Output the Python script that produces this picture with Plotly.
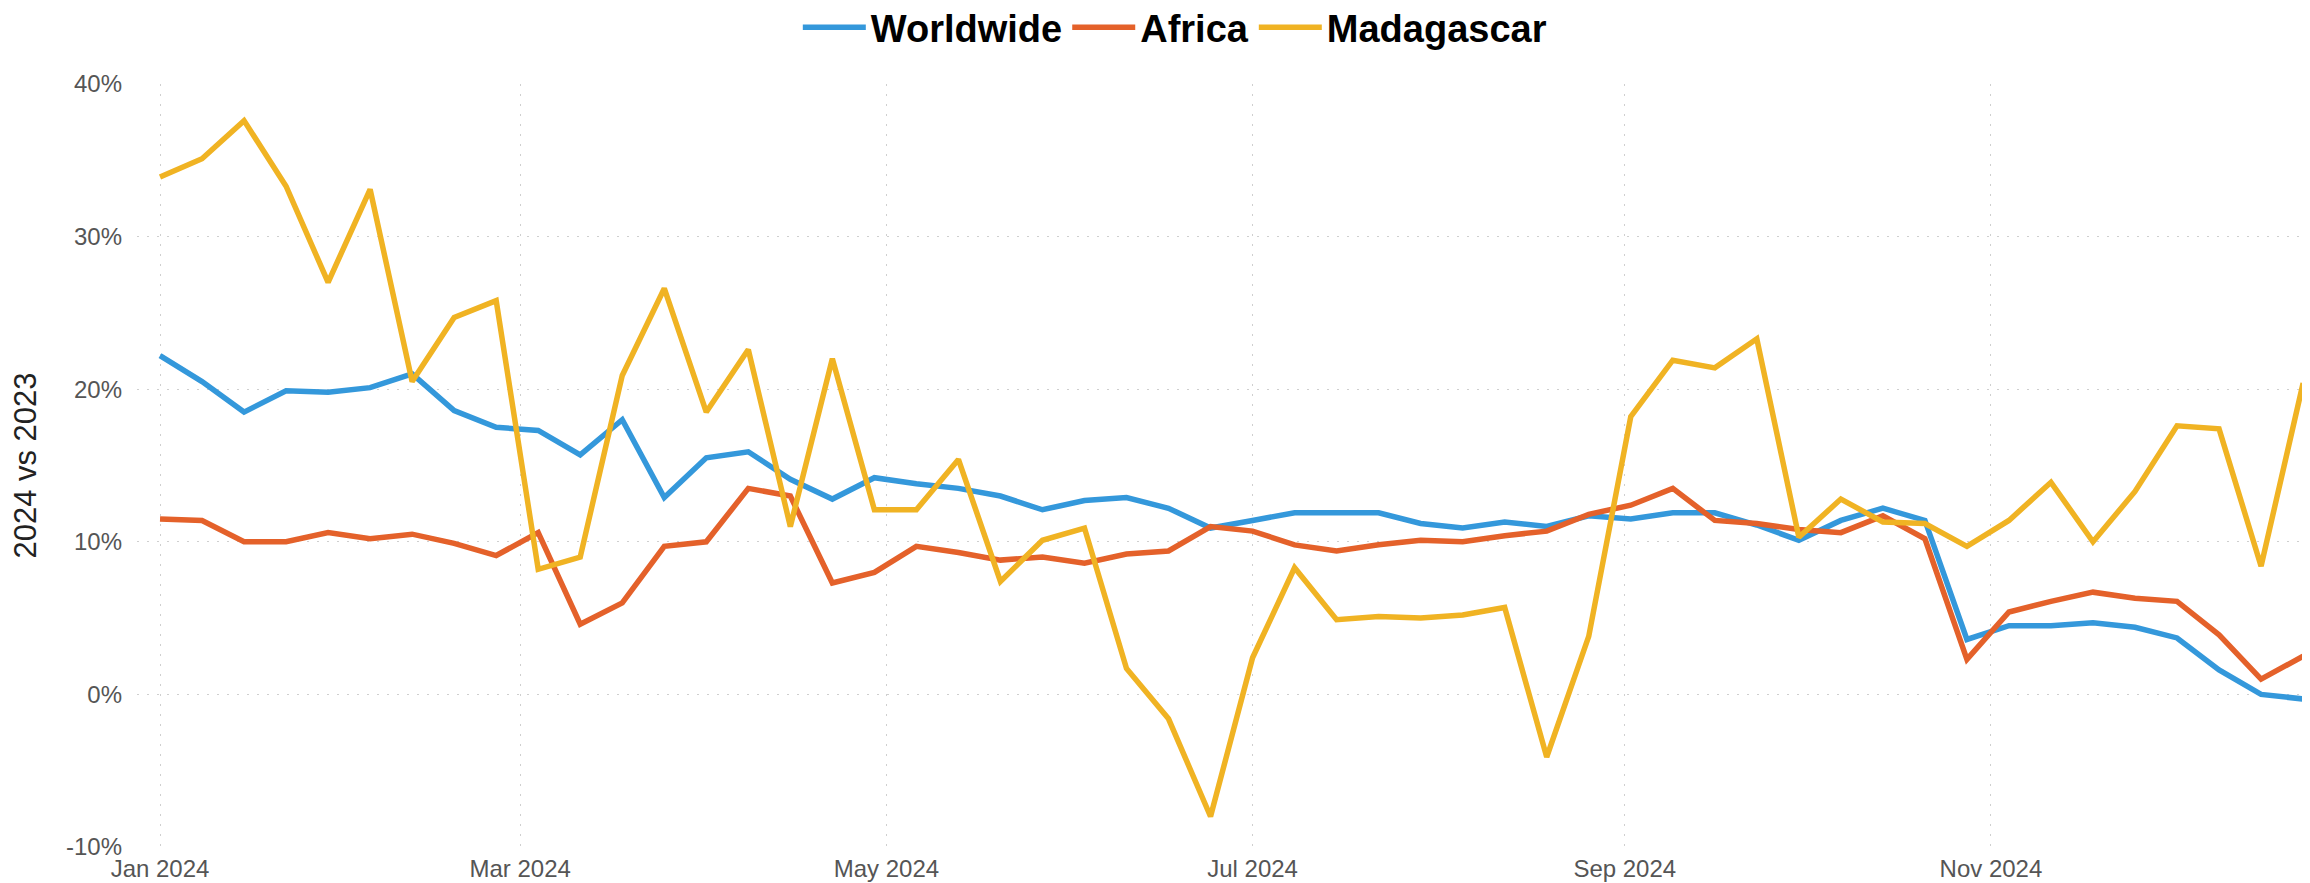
import plotly.graph_objects as go
import pandas as pd

dates = pd.date_range("2024-01-01", periods=52, freq="7D")

worldwide = [22.2, 20.5, 18.5, 19.9, 19.8, 20.1, 21.0, 18.6, 17.5, 17.3, 15.7, 18.0, 12.9, 15.5, 15.9, 14.1,
             12.8, 14.2, 13.8, 13.5, 13.0, 12.1, 12.7, 12.9, 12.2, 10.9, 11.4, 11.9, 11.9, 11.9, 11.2, 10.9, 11.3, 11.0,
             11.7, 11.5, 11.9, 11.9, 11.1, 10.1, 11.4, 12.2, 11.4, 3.6, 4.5, 4.5, 4.7, 4.4, 3.7, 1.6, 0.0, -0.3]
africa = [11.5, 11.4, 10.0, 10.0, 10.6, 10.2, 10.5, 9.9, 9.1, 10.6, 4.6, 6.0, 9.7, 10.0, 13.5, 13.0,
          7.3, 8.0, 9.7, 9.3, 8.8, 9.0, 8.6, 9.2, 9.4, 11.0, 10.7, 9.8, 9.4, 9.8, 10.1, 10.0, 10.4, 10.7,
          11.8, 12.4, 13.5, 11.4, 11.2, 10.8, 10.6, 11.7, 10.2, 2.3, 5.4, 6.1, 6.7, 6.3, 6.1, 3.9, 1.0, 2.5]
madagascar = [33.9, 35.1, 37.6, 33.3, 27.0, 33.1, 20.5, 24.7, 25.8, 8.2, 9.0, 20.9, 26.6, 18.5, 22.6, 11.0,
              22.0, 12.1, 12.1, 15.4, 7.4, 10.1, 10.9, 1.7, -1.6, -8.0, 2.4, 8.3, 4.9, 5.1, 5.0, 5.2, 5.7, -4.1,
              3.8, 18.2, 21.9, 21.4, 23.3, 10.3, 12.8, 11.3, 11.2, 9.7, 11.4, 13.9, 10.0, 13.3, 17.6, 17.4, 8.4, 20.4]

series_names = ["Worldwide", "Africa", "Madagascar"]
series_values = [worldwide, africa, madagascar]
colors = ["#3498DB", "#E4612A", "#F0B323"]

y_tick_values = [-0.1, 0.0, 0.1, 0.2, 0.3, 0.4]
y_tick_labels = ["-10%", "0%", "10%", "20%", "30%", "40%"]

fig = go.Figure()
for name, vals, col in zip(series_names, series_values, colors):
    fig.add_trace(go.Scatter(
        x=dates, y=[v / 100 for v in vals], mode="lines", name=name,
        line=dict(color=col, width=5.5),
    ))

font_family = "Liberation Sans, Arial, sans-serif"

fig.update_layout(
    width=2302, height=875,
    paper_bgcolor="white", plot_bgcolor="white",
    margin=dict(l=129, r=0, t=76, b=36, autoexpand=False),
    font=dict(family=font_family),
    legend=dict(
        orientation="h", x=0.3041, xanchor="left", y=1.074, yanchor="middle",
        font=dict(size=38, color="black", family=font_family, weight="bold"),
        itemwidth=63, traceorder="normal", bgcolor="rgba(0,0,0,0)",
    ),
    xaxis=dict(
        type="date",
        range=["2023-12-28 04:00", "2024-12-24 03:36"],
        tick0="2024-01-01", dtick="M2", tickformat="%b %Y",
        showgrid=True, gridcolor="#cfcfcf", gridwidth=1, griddash="2px,8px",
        zeroline=False, showline=False, ticks="",
        tickfont=dict(size=24, color="#555555", family=font_family),
        ticklabelstandoff=5,
    ),
    yaxis=dict(
        range=[-0.1, 0.4], tickmode="array", tickvals=y_tick_values, ticktext=y_tick_labels,
        showgrid=True, gridcolor="#cfcfcf", gridwidth=1, griddash="2px,8px",
        zeroline=False, showline=False, ticks="",
        tickfont=dict(size=24, color="#555555", family=font_family),
        ticklabelstandoff=14,
        title=dict(text="2024 vs 2023", font=dict(size=31, color="#222222", family=font_family), standoff=20),
    ),
    showlegend=True,
)

fig.write_html("out.html")
